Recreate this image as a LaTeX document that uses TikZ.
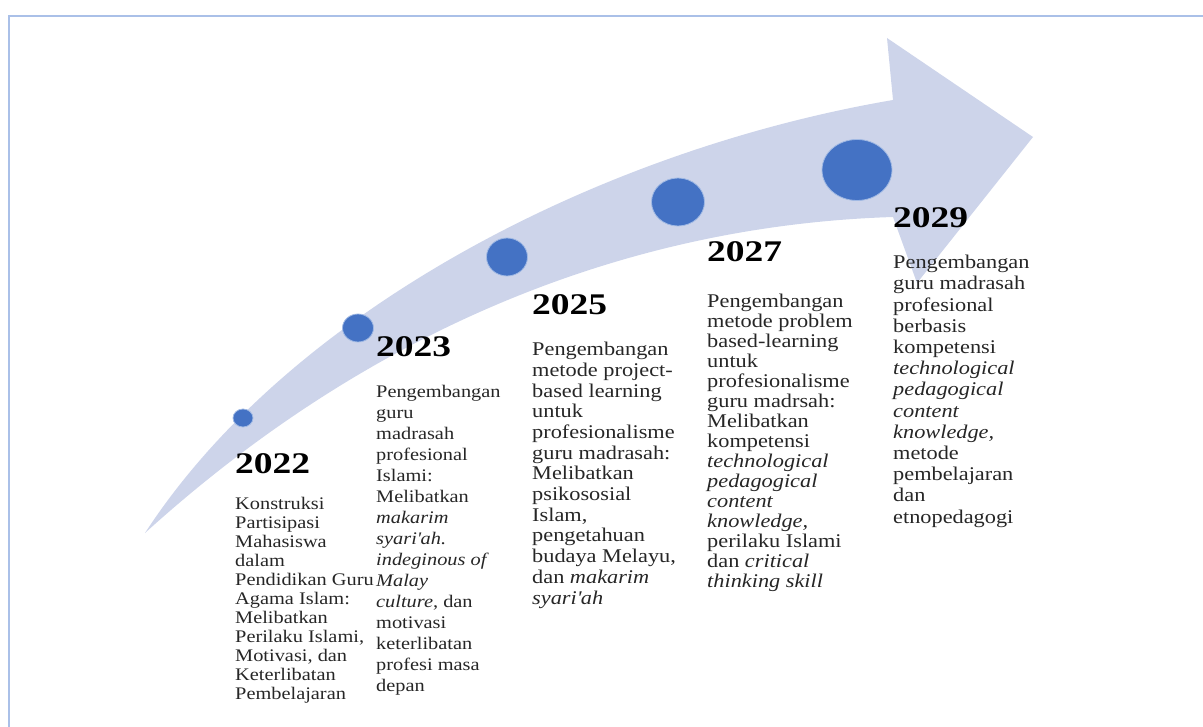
\documentclass[tikz,border=0pt]{standalone}
\usepackage{fontspec}
\setmainfont{Liberation Serif}[FakeStretch=1.15]
\newfontfamily\yearfont{Liberation Serif}[FakeStretch=1.25]
\usetikzlibrary{shapes.geometric}
\definecolor{band}{RGB}{205,212,234}
\definecolor{dotblue}{RGB}{68,114,196}
\definecolor{dotrim}{RGB}{160,185,228}
\definecolor{frameblue}{RGB}{170,192,232}
\tikzset{x = 1pt, y = 1pt,
         dot/.style = {ellipse, fill = dotblue, draw = dotrim,
                       line width = 0.8pt, inner sep = 0pt},
         year/.style = {anchor = base west, inner sep = 0pt,
                        font = \yearfont\bfseries\fontsize{30}{30}\selectfont},
         txt/.style 2 args = {anchor = north west, inner sep = 0pt,
                              align = left, text = black!85,
                              font = \fontsize{#1}{#2}\selectfont}}

\begin{document}
\begin{tikzpicture}
  \useasboundingbox (0,0) rectangle (1203,-727);
  \draw[frameblue, line width = 2pt] (8.5,-727) -- (8.5,-16) -- (1203,-16);

  % band with its head
  \fill[band] (145,-533) .. controls (290,-310) and (600,-150) .. (893,-100)
    -- (887,-38) -- (1033,-137) -- (917,-283) -- (893,-217)
    .. controls (640,-225) and (380,-320) .. (145,-533) -- cycle;

  % dots
  \node[dot, minimum width = 20, minimum height = 18] (d22) at (243,-418) {};
  \node[dot, minimum width = 31, minimum height = 28] (d23) at (358,-328) {};
  \node[dot, minimum width = 41, minimum height = 38] (d25) at (507,-257) {};
  \node[dot, minimum width = 53, minimum height = 48] (d27) at (678,-202) {};
  \node[dot, minimum width = 70, minimum height = 61] (d29) at (857,-170) {};

  % years
  \node[year] (y22) at (235,-473) {2022};
  \node[year] (y23) at (376,-357) {2023};
  \node[year] (y25) at (532,-315) {2025};
  \node[year] (y27) at (707,-262) {2027};
  \node[year] (y29) at (893,-228) {2029};

  % texts
  \node[txt = {17.7}{19}] (t22) at (235,-497) {Konstruksi\\Partisipasi\\Mahasiswa\\dalam\\
    Pendidikan Guru\\Agama Islam:\\Melibatkan\\Perilaku Islami,\\Motivasi, dan\\
    Keterlibatan\\Pembelajaran};
  \node[txt = {17.7}{21}] (t23) at (376,-385) {Pengembangan\\guru\\madrasah\\profesional\\
    Islami:\\Melibatkan\\\textit{makarim}\\\textit{syari\textquotesingle ah.}\\
    \textit{indeginous of}\\\textit{Malay}\\\textit{culture}, dan\\motivasi\\
    keterlibatan\\profesi masa\\depan};
  \node[txt = {19.4}{20.7}] (t25) at (532,-342) {Pengembangan\\metode project-\\
    based learning\\untuk\\profesionalisme\\guru madrasah:\\Melibatkan\\psikososial\\
    Islam,\\pengetahuan\\budaya Melayu,\\dan \textit{makarim}\\
    \textit{syari\textquotesingle ah}};
  \node[txt = {19.4}{20}] (t27) at (707,-294) {Pengembangan\\metode problem\\
    based-learning\\untuk\\profesionalisme\\guru madrsah:\\Melibatkan\\kompetensi\\
    \textit{technological}\\\textit{pedagogical}\\\textit{content}\\\textit{knowledge,}\\
    perilaku Islami\\dan \textit{critical}\\\textit{thinking skill}};
  \node[txt = {19.4}{21.2}] (t29) at (893,-255) {Pengembangan\\guru madrasah\\
    profesional\\berbasis\\kompetensi\\\textit{technological}\\\textit{pedagogical}\\
    \textit{content}\\\textit{knowledge,}\\metode\\pembelajaran\\dan\\etnopedagogi};
\end{tikzpicture}
\end{document}
